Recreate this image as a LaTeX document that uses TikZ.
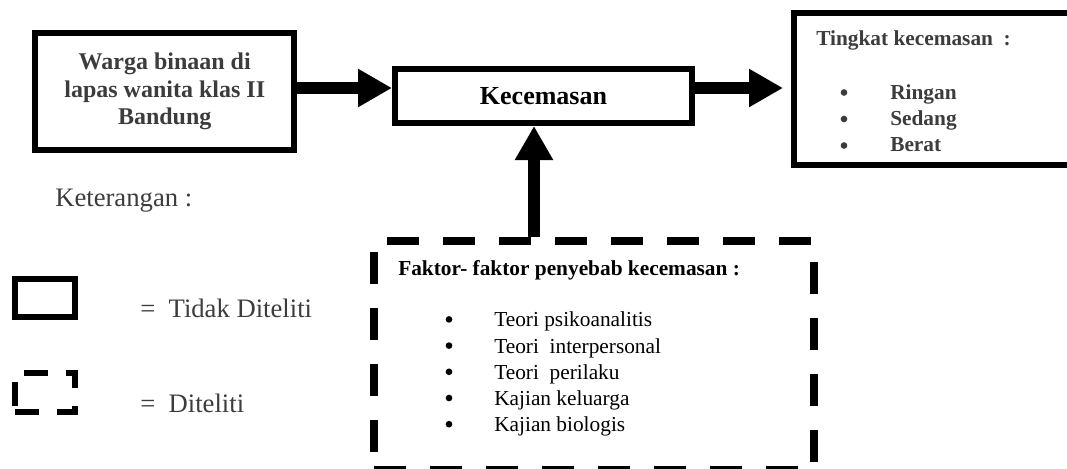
\documentclass[tikz,border=0pt]{standalone}
\usepackage{fontspec}
\setmainfont{Liberation Serif}
\usetikzlibrary{arrows.meta}
\definecolor{txtgray}{RGB}{60,60,60}

\begin{document}
\begin{tikzpicture}[x=0.75pt,y=-0.75pt,
	box/.style={draw,line width=4.5pt,inner sep=0pt},
	dashbox/.style={box,line width=6pt,dash pattern=on 24pt off 18pt},
	bigarrow/.style={line width=8.5pt,-{Triangle[length=25.5pt,width=27pt]}},
	dot/.style={circle,fill,inner sep=0pt,minimum size=5pt},
	lbl/.style={anchor=base west,inner sep=0pt,font=\fontsize{16pt}{19pt}\selectfont}]
	\useasboundingbox (0,0) rectangle (1067,468);

	% boxes
	\node[box,minimum width=194.6pt,minimum height=87.75pt,align=center,text=txtgray,
		font=\fontsize{18pt}{20.6pt}\selectfont\bfseries] (warga) at (164.75,91.5)
		{Warga binaan di\\lapas wanita klas II\\Bandung};
	\node[box,minimum width=222.75pt,minimum height=40.5pt,
		font=\fontsize{19.5pt}{22pt}\selectfont\bfseries] (kec) at (543.5,96) {Kecemasan};
	\node[box,minimum width=217.5pt,minimum height=114pt] (tingkat) at (939,88.5) {};
	\node[dashbox,minimum width=330pt,minimum height=171.75pt] (faktor) at (594,355.5) {};

	% arrows
	\draw[bigarrow] (warga.east |- 0,88) -- (kec.west |- 0,88);
	\draw[bigarrow] (kec.east |- 0,88) -- (783,88);
	\draw[bigarrow] (faktor.north -| 534,0) -- (kec.south -| 534,0);

	% tingkat kecemasan
	\node[lbl,text=txtgray,font=\fontsize{16pt}{19pt}\selectfont\bfseries] (tingkattitle) at (816,45) {Tingkat kecemasan~~:};
	\foreach \t [count=\i] in {Ringan,Sedang,Berat} {
		\node[dot,txtgray] (tb\i) at (844,66+26.5*\i) {};
		\node[lbl,text=txtgray,font=\fontsize{16pt}{19pt}\selectfont\bfseries] (ti\i) at (890,73+26*\i) {\t};
	}

	% faktor penyebab
	\node[lbl,font=\fontsize{16pt}{19pt}\selectfont\bfseries] (faktortitle) at (398,275) {Faktor- faktor penyebab kecemasan :};
	\foreach \t [count=\i] in {Teori psikoanalitis,Teori~~interpersonal,Teori~~perilaku,Kajian keluarga,Kajian biologis} {
		\node[dot] (fb\i) at (449,293.2+26.2*\i) {};
		\node[lbl] (fi\i) at (494,300.4+26.3*\i) {\t};
	}

	% keterangan
	\node[lbl,text=txtgray,font=\fontsize{20pt}{24pt}\selectfont] (ket) at (55,206) {Keterangan :};
	\node[box,minimum width=45pt,minimum height=28.5pt] (legsolid) at (45,298) {};
	\node[box,dash pattern=on 18pt off 13.5pt,minimum width=45pt,minimum height=29.25pt] (legdash) at (45,392.5) {};
	\node[lbl,text=txtgray,font=\fontsize{20pt}{24pt}\selectfont] (legsolidtxt) at (140,317) {=~~Tidak Diteliti};
	\node[lbl,text=txtgray,font=\fontsize{20pt}{24pt}\selectfont] (legdashtxt) at (140,412) {=~~Diteliti};
\end{tikzpicture}
\end{document}
